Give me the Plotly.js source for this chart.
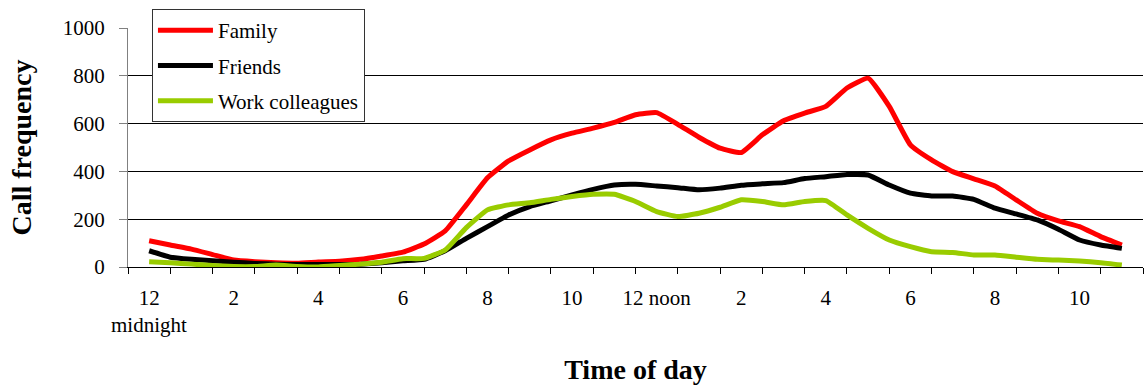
<!DOCTYPE html>
<html>
<head>
<meta charset="utf-8">
<script src="https://cdn.plot.ly/plotly-3.0.1.min.js"></script>
<style>html,body{margin:0;padding:0;background:#fff;}#chart{width:1146px;height:387px;}
#chart text{font-family:'Liberation Serif','Times New Roman',serif !important;}</style>
</head>
<body>
<div id="chart"></div>
<script>
// Time of day (hours after midnight), half-hour steps
const hours = [0,0.5,1,1.5,2,2.5,3,3.5,4,4.5,5,5.5,6,6.5,7,7.5,8,8.5,9,9.5,10,10.5,11,11.5,12,12.5,13,13.5,14,14.5,15,15.5,16,16.5,17,17.5,18,18.5,19,19.5,20,20.5,21,21.5,22,22.5,23];
const family = [110,92,75,52,29,22,18,16,21,24,32,46,62,96,151,260,373,444,490,532,560,581,605,637,646,597,543,497,479,553,612,644,672,749,790,672,511,448,399,369,339,281,225,193,169,127,92];
const friends = [68,41,32,26,20,15,12,10,10,10,12,18,26,32,68,120,169,218,253,277,302,325,343,346,339,332,323,330,342,348,353,370,378,387,385,343,309,297,297,283,246,222,197,158,113,92,78];
const work = [22,18,12,6,2,2,8,2,0,6,12,20,35,36,71,165,239,260,269,283,295,304,304,274,232,211,225,250,281,274,260,274,278,218,162,113,85,64,61,50,50,41,32,29,25,18,8];
const seriesNames = ["Family","Friends","Work colleagues"];
const seriesColors = ["#ff0000","#000000","#99cc00"];
const tickPositions = [0,2,4,6,8,10,12,14,16,18,20,22];
const tickLabels = ["12","2","4","6","8","10","12 noon","2","4","6","8","10"];
const hourBoundaries = [-0.5,0.5,1.5,2.5,3.5,4.5,5.5,6.5,7.5,8.5,9.5,10.5,11.5,12.5,13.5,14.5,15.5,16.5,17.5,18.5,19.5,20.5,21.5,22.5,23.5];
const yTicks = [0,200,400,600,800,1000];

const FONT = "Liberation Serif";
const seriesData = [family, friends, work];

const traces = seriesData.map((ys, i) => ({
  x: hours, y: ys, type: 'scatter', mode: 'lines', name: seriesNames[i],
  legendgroup: 'g' + i,
  line: {color: seriesColors[i], width: 5, shape: 'spline', smoothing: 0.4}
}));

const layout = {
  width: 1146, height: 387,
  margin: {l: 128, r: 3, t: 28, b: 120},
  paper_bgcolor: '#fff', plot_bgcolor: '#fff',
  font: {family: FONT, color: '#000', size: 21},
  showlegend: true,
  legend: {
    x: 0.0236, y: 1.079, xanchor: 'left', yanchor: 'top',
    bgcolor: '#fff', bordercolor: '#333', borderwidth: 1,
    font: {family: FONT, size: 21},
    traceorder: 'grouped', tracegroupgap: 5, itemwidth: 55
  },
  xaxis: {
    range: [-0.5, 23.5], tickmode: 'array', tickvals: tickPositions, ticktext: tickLabels,
    ticks: 'outside', ticklen: 0, tickfont: {family: FONT, size: 21},
    showline: true, linecolor: '#000', linewidth: 1, showgrid: false, zeroline: false,
    minor: {tickvals: hourBoundaries, ticks: 'outside', ticklen: 6, tickcolor: '#000', tickwidth: 1, showgrid: false},
    ticklabelstandoff: 12,
    title: {text: 'Time of day', font: {family: FONT, size: 28, weight: 'bold'}, standoff: 50},
    automargin: false, fixedrange: true
  },
  yaxis: {
    range: [0, 1000], tickmode: 'array', tickvals: yTicks,
    ticks: 'outside', ticklen: 8, tickcolor: '#808080', tickfont: {family: FONT, size: 21},
    ticklabelstandoff: 10,
    showline: true, linecolor: '#808080', linewidth: 1,
    showgrid: true, gridcolor: '#000', gridwidth: 1, zeroline: false,
    title: {text: 'Call frequency', font: {family: FONT, size: 28, weight: 'bold'}, standoff: 22},
    automargin: true, fixedrange: true
  },
  annotations: [{
    x: 0, xref: 'x', y: -0.243, yref: 'paper', yanchor: 'middle', xanchor: 'center',
    text: 'midnight', showarrow: false, font: {family: FONT, size: 21}
  }]
};

Plotly.newPlot('chart', traces, layout, {displayModeBar: false});
</script>
</body>
</html>
